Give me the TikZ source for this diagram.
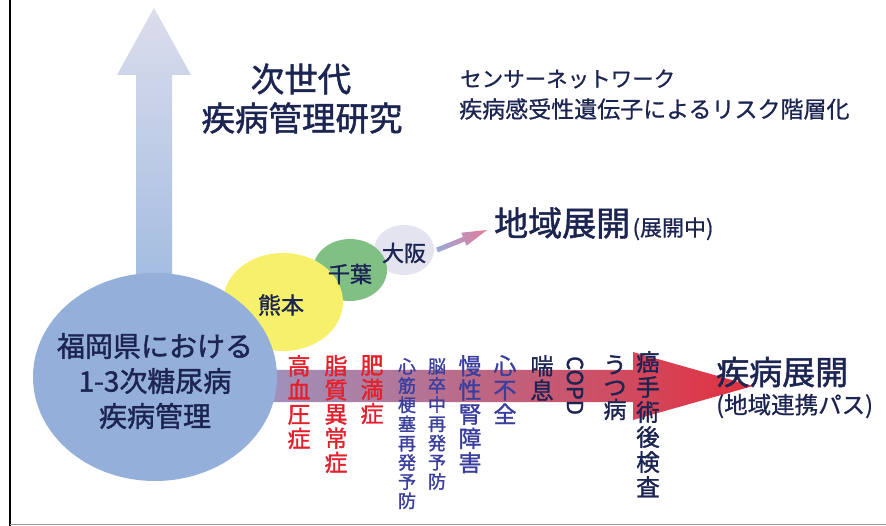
\documentclass[tikz,border=0pt]{standalone}
\usepackage{fontspec}
\setmainfont{Noto Sans CJK JP}
\newfontfamily\jpb{Noto Sans CJK JP}[FakeBold=1.4]
\newfontfamily\jpm{Noto Sans CJK JP}[FakeBold=0.7]
\definecolor{navytext}{HTML}{1C2452}
\definecolor{bluetext}{HTML}{3A3F9E}
\definecolor{redtext}{HTML}{E4202C}
\definecolor{bigblue}{HTML}{94AFD9}
\definecolor{kyellow}{HTML}{F7F06B}
\definecolor{cgreen}{HTML}{80C084}
\definecolor{olav}{HTML}{E4E4F0}
\definecolor{vtop}{HTML}{DCDDEC}
\definecolor{vbot}{HTML}{9FBAE0}
\definecolor{hleft}{HTML}{8FA9DA}
\definecolor{hright}{HTML}{E2303E}
\definecolor{spink}{HTML}{E57A9A}
\definecolor{sblue}{HTML}{9AAAD8}
\begin{document}
\begin{tikzpicture}[x=1pt,y=-1pt,
  lbl/.style={inner sep=0pt, text=navytext},
  vred/.style={anchor=north, align=center, inner sep=0pt, text=redtext,
     font=\jpb\fontsize{23}{24.2}\selectfont},
  vblue/.style={anchor=north, align=center, inner sep=0pt, text=bluetext,
     font=\jpb\fontsize{23}{24.2}\selectfont},
  vsmall/.style={anchor=north, align=center, inner sep=0pt, text=bluetext,
     font=\jpb\fontsize{18}{19.2}\selectfont},
  vnavy/.style={anchor=north, align=center, inner sep=0pt, text=navytext,
     font=\jpb\fontsize{23}{24.5}\selectfont},
]
\useasboundingbox (0,0) rectangle (886,526);
\fill[white] (0,0) rectangle (886,526);
\draw[line width=1.2pt, black] (10,0) -- (10,526);
\draw[line width=0.5pt, black!40] (10,524) -- (886,524);

% vertical arrow
\shade[top color=vtop, bottom color=vbot]
  (136,300) -- (136,75) -- (117,75) -- (154,8) -- (191,75) -- (172,75) -- (172,300) -- cycle;

% horizontal arrow
\shade[left color=hleft, right color=hright]
  (150,370) -- (633,370) -- (633,352) -- (753,386) -- (633,420) -- (633,402) -- (150,402) -- cycle;

% small arrow
\shade[left color=sblue, right color=spink]
  (437.9,252.3) -- (464.8,241.5) -- (466.5,245.7) -- (487,230) -- (461.3,232.7) -- (463.0,236.9) -- (436.1,247.7) -- cycle;

% blobs
\fill[olav] (404,250) ellipse [x radius=30, y radius=25];
\fill[cgreen] (350,270) ellipse [x radius=37, y radius=31];
\fill[kyellow] (283,302) ellipse [x radius=60, y radius=49];
\fill[bigblue] (155,377) ellipse [x radius=122, y radius=104];

\node[lbl, font=\jpb\fontsize{22}{24}\selectfont] (osaka) at (404,253) {大阪};
\node[lbl, font=\jpb\fontsize{22}{24}\selectfont] (chiba) at (350,274) {千葉};
\node[lbl, font=\jpb\fontsize{23}{24}\selectfont] (kuma) at (281,305) {熊本};

\node[lbl, align=center, font=\jpb\fontsize{28}{35}\selectfont] (fuk) at (155,381)
  {福岡県における\\1-3次糖尿病\\疾病管理};

% titles
\node[lbl, font=\jpb\fontsize{33.5}{34}\selectfont] (t1) at (301,79) {次世代};
\node[lbl, font=\jpb\fontsize{33.5}{34}\selectfont] (t2) at (302,118) {疾病管理研究};

\node[lbl, anchor=west, font=\jpm\fontsize{21.5}{23}\selectfont] (s1) at (460,79) {センサーネットワーク};
\node[lbl, anchor=west, font=\jpm\fontsize{23}{24}\selectfont] (s2) at (459,109) {疾病感受性遺伝子によるリスク階層化};

\node[lbl, anchor=west, font=\jpb\fontsize{34}{36}\selectfont] (chiiki) at (494,223) {地域展開};
\node[lbl, anchor=base west, font=\jpm\fontsize{22}{24}\selectfont] (tenkai) at ([xshift=2pt]chiiki.base east) {(展開中)};

\node[lbl, anchor=west, font=\jpb\fontsize{33}{35}\selectfont] (shippei) at (716,372) {疾病展開};
\node[lbl, anchor=west, font=\jpm\fontsize{23.5}{25}\selectfont] (path) at (716,406) {(地域連携パス)};

% vertical labels
\node[vred] (v1) at (299,355) {高\\血\\圧\\症};
\node[vred] (v2) at (336,355) {脂\\質\\異\\常\\症};
\node[vred] (v3) at (372,355) {肥\\満\\症};
\node[vsmall] (v4) at (407,358) {心\\筋\\梗\\塞\\再\\発\\予\\防};
\node[vsmall] (v5) at (437,358) {脳\\卒\\中\\再\\発\\予\\防};
\node[vblue] (v6) at (470,355) {慢\\性\\腎\\障\\害};
\node[vblue] (v7) at (505,355) {心\\不\\全};
\node[vnavy] (v8) at (542,355) {喘\\息};
\node[lbl, rotate=-90, anchor=west, font=\jpb\fontsize{22}{24}\selectfont] (v9) at (575,356) {COPD};
\node[vnavy, font=\jpb\fontsize{23}{22.5}\selectfont] (v10) at (615,355) {う\\つ\\病};
\node[vnavy, font=\jpb\fontsize{23.5}{25}\selectfont] (v11) at (648,351) {癌\\手\\術\\後\\検\\査};
\end{tikzpicture}
\end{document}
